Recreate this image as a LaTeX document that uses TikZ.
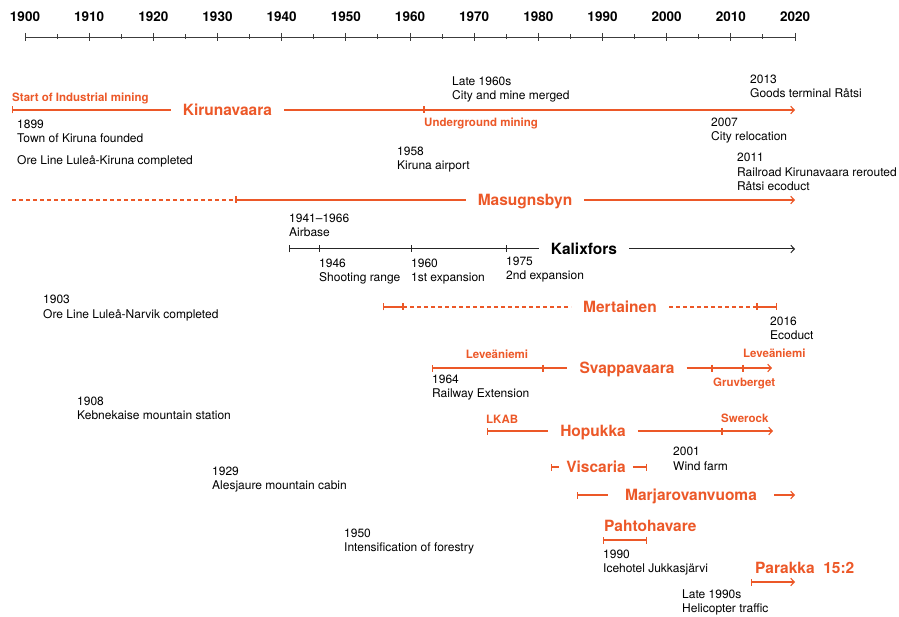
\documentclass[tikz,border=0pt]{standalone}
\usepackage{fontspec}
\setmainfont{TeX Gyre Heros}
\usetikzlibrary{arrows.meta}
\definecolor{ore}{RGB}{236,88,40}
\definecolor{axisgray}{RGB}{60,60,60}

\tikzset{
	ybar/.tip={Bar[width=7pt]},
	yhead/.tip={Straight Barb[length=3.5pt,width=7.5pt]},
	oreline/.style={draw=ore, line width=1.2pt},
	blkline/.style={draw=black!85, line width=1pt},
	dashline/.style={dash pattern=on 4pt off 3pt},
	axisline/.style={draw=axisgray, line width=0.9pt},
	site/.style={font=\fontsize{15.5}{18}\selectfont\bfseries, text=ore, inner xsep=12pt, inner ysep=0pt, text height=11.2pt, text depth=0pt},
	phase/.style={font=\fontsize{11.5}{14}\selectfont\bfseries, text=ore, inner sep=0pt, anchor=base west},
	event/.style={font=\fontsize{12}{14.5}\selectfont, align=left, inner sep=0pt, anchor=base west},
	yearlbl/.style={font=\fontsize{13.5}{15}\selectfont\bfseries, inner sep=0pt}
}

\begin{document}
\begin{tikzpicture}[x=1pt, y=-1pt]

		\useasboundingbox (0,0) rectangle (899,617);

		% time axis
		\coordinate (ax-s) at (25,37);
		\coordinate (ax-e) at (795,37);
		\draw[axisline] (ax-s) -- (ax-e);
		\foreach \yr in {1900,1910,...,2020} {
			\pgfmathsetmacro\xx{25+6.4167*(\yr-1900)}
			\draw[axisline] (\xx,33) -- (\xx,41);
			\node[yearlbl] (y\yr) at (\xx,16.5) {\yr};
		}
		\foreach \yr in {1905,1915,...,2015} {
			\pgfmathsetmacro\xx{25+6.4167*(\yr-1900)}
			\draw[axisline] (\xx,34.5) -- (\xx,39.5);
		}

		% Kirunavaara
		\coordinate (kir-s) at (12,110);
		\coordinate (kir-u) at (424,110);
		\coordinate (kir-e) at (795,110);
		\node[site] (kir) at (227.5,110) {Kirunavaara};
		\draw[oreline, ybar-] (kir-s) -- (kir.west);
		\draw[oreline, -yhead] (kir.east) -- (kir-e);
		\draw[oreline] (kir-u) ++(0,-3.5) -- ++(0,7);
		\node[phase] (startmining) at (12,101.5) {Start of Industrial mining};
		\node[phase] (underground) at (424,127) {Underground mining};

		% Masugnsbyn
		\coordinate (mas-s) at (12,200);
		\coordinate (mas-a) at (236,200);
		\coordinate (mas-e) at (795,200);
		\node[site] (mas) at (525,200) {Masugnsbyn};
		\draw[oreline, dashline] (mas-s) -- (mas-a);
		\draw[oreline] (mas-a) -- (mas.west);
		\draw[oreline, -yhead] (mas.east) -- (mas-e);
		\draw[oreline] (mas-a) ++(0,-3.5) -- ++(0,7);

		% Kalixfors
		\coordinate (kal-s) at (289,249);
		\coordinate (kal-e) at (795,249);
		\node[site, text=black] (kal) at (584,249) {Kalixfors};
		\draw[blkline, ybar-] (kal-s) -- (kal.west);
		\draw[blkline, -yhead] (kal.east) -- (kal-e);
		\foreach \tx in {319,411,506}
			\draw[blkline] (\tx,245.5) -- (\tx,252.5);

		% Mertainen
		\coordinate (mer-s) at (383,307);
		\coordinate (mer-a) at (403,307);
		\coordinate (mer-b) at (757,307);
		\coordinate (mer-e) at (777,307);
		\node[site] (mer) at (620,307) {Mertainen};
		\draw[oreline, ybar-] (mer-s) -- (mer-a);
		\draw[oreline, dashline] (mer-a) -- (mer.west);
		\draw[oreline, dashline] (mer.east) -- (mer-b);
		\draw[oreline, -ybar] (mer-b) -- (mer-e);
		\draw[oreline] (mer-a) ++(0,-3.5) -- ++(0,7);
		\draw[oreline] (mer-b) ++(0,-3.5) -- ++(0,7);

		% Svappavaara
		\coordinate (sva-s) at (432,368);
		\coordinate (sva-a) at (543,368);
		\coordinate (sva-b) at (712,368);
		\coordinate (sva-c) at (743,368);
		\coordinate (sva-e) at (772,368);
		\node[site] (sva) at (627,368) {Svappavaara};
		\draw[oreline, ybar-] (sva-s) -- (sva.west);
		\draw[oreline, -yhead] (sva.east) -- (sva-e);
		\foreach \c in {sva-a,sva-b,sva-c}
			\draw[oreline] (\c) ++(0,-3.5) -- ++(0,7);
		\node[phase, anchor=base] (leve1) at (497,359) {Leveäniemi};
		\node[phase] (leve2) at (743,357) {Leveäniemi};
		\node[phase] (gruv) at (713,386) {Gruvberget};

		% Hopukka
		\coordinate (hop-s) at (487,431);
		\coordinate (hop-a) at (722,431);
		\coordinate (hop-e) at (773,431);
		\node[site] (hop) at (593,431) {Hopukka};
		\draw[oreline, ybar-] (hop-s) -- (hop.west);
		\draw[oreline, -yhead] (hop.east) -- (hop-e);
		\draw[oreline] (hop-a) ++(0,-3.5) -- ++(0,7);
		\node[phase] (lkab) at (486,423) {LKAB};
		\node[phase] (swerock) at (721,422) {Swerock};

		% Viscaria
		\coordinate (vis-s) at (551,467);
		\coordinate (vis-e) at (647,467);
		\node[site, inner xsep=7pt] (vis) at (596,467) {Viscaria};
		\draw[oreline, ybar-] (vis-s) -- (vis.west);
		\draw[oreline, -ybar] (vis.east) -- (vis-e);

		% Marjarovanvuoma
		\coordinate (mar-s) at (577,495);
		\coordinate (mar-e) at (795,495);
		\node[site, inner xsep=17pt] (mar) at (691,495) {Marjarovanvuoma};
		\draw[oreline, ybar-] (mar-s) -- (mar.west);
		\draw[oreline, -yhead] (mar.east) -- (mar-e);

		% Pahtohavare
		\coordinate (pah-s) at (603,540);
		\coordinate (pah-e) at (647,540);
		\node[site, inner sep=0pt, anchor=base west] (pah) at (604,531) {Pahtohavare};
		\draw[oreline, ybar-ybar] (pah-s) -- (pah-e);

		% Parakka
		\coordinate (par-s) at (751,582);
		\coordinate (par-e) at (795,582);
		\node[site, inner sep=0pt, anchor=base west] (par) at (755,573) {Parakka~~15:2};
		\draw[oreline, ybar-yhead] (par-s) -- (par-e);

		% events (base = last line)
		\node[event] (founded) at (17,143) {1899\\Town of Kiruna founded};
		\node[event] (orekiruna) at (17,165) {Ore Line Luleå-Kiruna completed};
		\node[event] (airport) at (397,170) {1958\\Kiruna airport};
		\node[event] (merged) at (452,100) {Late 1960s\\City and mine merged};
		\node[event] (goods) at (750,98) {2013\\Goods terminal Råtsi};
		\node[event] (reloc) at (711,141) {2007\\City relocation};
		\node[event] (reroute) at (737,191) {2011\\Railroad Kirunavaara rerouted\\Råtsi ecoduct};
		\node[event] (airbase) at (289,237) {1941–1966\\Airbase};
		\node[event] (shooting) at (319,282) {1946\\Shooting range};
		\node[event] (exp1) at (411,282) {1960\\1st expansion};
		\node[event] (exp2) at (506,280) {1975\\2nd expansion};
		\node[event] (orenarvik) at (43,318.5) {1903\\Ore Line Luleå-Narvik completed};
		\node[event] (ecoduct) at (770,340) {2016\\Ecoduct};
		\node[event] (railext) at (432,397.5) {1964\\Railway Extension};
		\node[event] (kebne) at (77,419.5) {1908\\Kebnekaise mountain station};
		\node[event] (windfarm) at (673,470) {2001\\Wind farm};
		\node[event] (alesjaure) at (212,489.5) {1929\\Alesjaure mountain cabin};
		\node[event] (forestry) at (344,551.5) {1950\\Intensification of forestry};
		\node[event] (icehotel) at (603,572.5) {1990\\Icehotel Jukkasjärvi};
		\node[event] (heli) at (682,612.5) {Late 1990s\\Helicopter traffic};

\end{tikzpicture}
\end{document}
